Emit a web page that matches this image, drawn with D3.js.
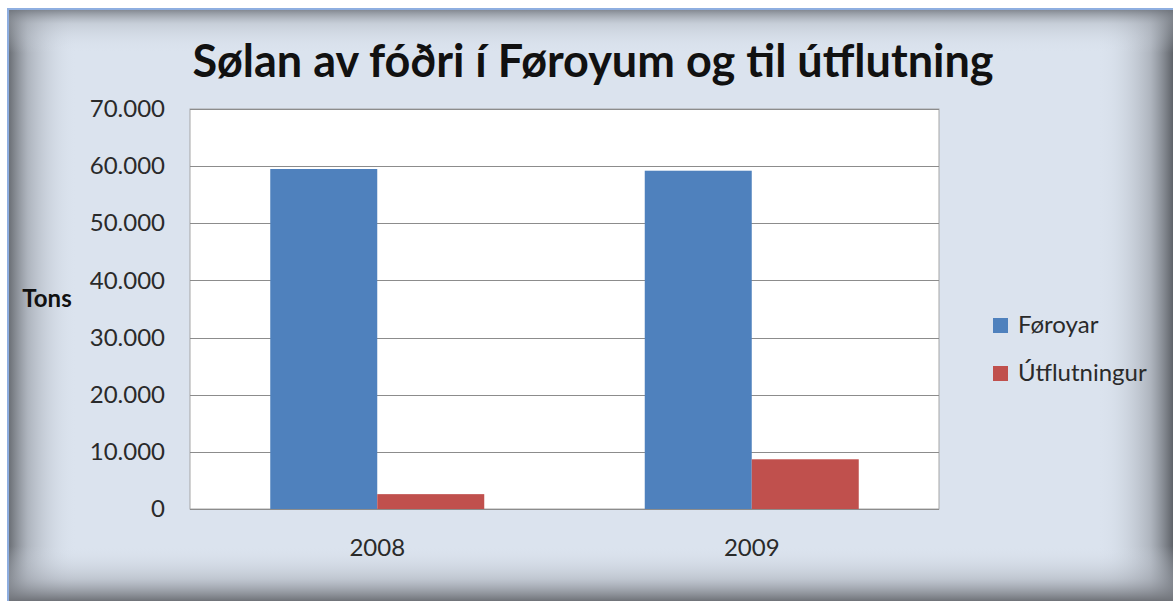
<!DOCTYPE html>
<html>
<head>
<meta charset="utf-8">
<script src="https://cdn.jsdelivr.net/npm/d3@7"></script>
<style>
  body { margin: 0; background: #ffffff; }
  svg { display: block; }
</style>
</head>
<body>
<script>
var categories = ["2008", "2009"];
var seriesNames = ["Føroyar", "Útflutningur"];
var foroyar = [59500, 59200];
var utflutningur = [2600, 8700];
var yTicks = [0, 10000, 20000, 30000, 40000, 50000, 60000, 70000];
var colors = ["#4f81bd", "#c0504d"];

var width = 1173, height = 601;

var svg = d3.select("body").append("svg")
  .attr("width", width)
  .attr("height", height);

var defs = svg.append("defs");

// vignette style background, darker at the edges
function edgeGradient(id, x1, y1, x2, y2, stops) {
  var g = defs.append("linearGradient").attr("id", id)
    .attr("x1", x1).attr("y1", y1).attr("x2", x2).attr("y2", y2);
  stops.forEach(function(s) {
    g.append("stop").attr("offset", s[0]).attr("stop-color", s[1]).attr("stop-opacity", s[2]);
  });
}
edgeGradient("gLeft", 0, 0, 1, 0, [[0, "#62666c", 1], [0.3, "#8a8f97", 0.55], [1, "#dbe3ee", 0]]);
edgeGradient("gRight", 1, 0, 0, 0, [[0, "#5e6268", 1], [0.3, "#8a8f97", 0.55], [1, "#dbe3ee", 0]]);
edgeGradient("gTop", 0, 0, 0, 1, [[0, "#6b7078", 0.9], [0.35, "#a9afb8", 0.4], [1, "#dbe3ee", 0]]);
edgeGradient("gBottom", 0, 1, 0, 0, [[0, "#6f7278", 1], [0.4, "#a4a9b2", 0.5], [1, "#dbe3ee", 0]]);

var bx = 7, by = 8, bw = width - bx, bh = height - by;
svg.append("rect").attr("x", bx).attr("y", by).attr("width", bw).attr("height", bh)
  .attr("fill", "#dbe3ee");
svg.append("rect").attr("x", bx).attr("y", by).attr("width", 70).attr("height", bh)
  .attr("fill", "url(#gLeft)");
svg.append("rect").attr("x", width - 75).attr("y", by).attr("width", 75).attr("height", bh)
  .attr("fill", "url(#gRight)");
svg.append("rect").attr("x", bx).attr("y", by).attr("width", bw).attr("height", 45)
  .attr("fill", "url(#gTop)");
svg.append("rect").attr("x", bx).attr("y", height - 55).attr("width", bw).attr("height", 55)
  .attr("fill", "url(#gBottom)");
// thin blue frame on top and left
svg.append("path")
  .attr("d", "M" + (bx + 1) + "," + height + "V" + (by + 1) + "H" + width)
  .attr("fill", "none").attr("stroke", "#8eaee0").attr("stroke-width", 2);

// title
svg.append("text")
  .attr("x", 593).attr("y", 77)
  .attr("text-anchor", "middle")
  .style("font", "bold 45px Lato, sans-serif")
  .style("fill", "#111")
  .text("Sølan av fóðri í Føroyum og til útflutning");

var plot = { left: 190, right: 939, top: 109, bottom: 509 };

var x0 = d3.scaleBand().domain(categories).range([plot.left, plot.right]);
var x1 = d3.scaleBand().domain(seriesNames).range([0, x0.bandwidth()])
  .paddingInner(0).paddingOuter(0.75);
var y = d3.scaleLinear().domain([0, 70000]).range([plot.bottom, plot.top]);

var locale = d3.formatLocale({ decimal: ",", thousands: ".", grouping: [3], currency: ["", ""] });
var fmt = locale.format(",");

svg.append("rect")
  .attr("x", plot.left).attr("y", plot.top)
  .attr("width", plot.right - plot.left).attr("height", plot.bottom - plot.top)
  .attr("fill", "#ffffff").attr("stroke", "#a6a6a6").attr("stroke-width", 1);

// gridlines
svg.append("g").selectAll("line")
  .data(yTicks)
  .enter().append("line")
  .attr("x1", plot.left).attr("x2", plot.right)
  .attr("y1", function(d) { return Math.round(y(d)) + 0.5; })
  .attr("y2", function(d) { return Math.round(y(d)) + 0.5; })
  .attr("stroke", "#8c8c8c").attr("stroke-width", 1);

// y axis
var yAxis = svg.append("g")
  .attr("transform", "translate(" + plot.left + ",0)")
  .call(d3.axisLeft(y).tickValues(yTicks).tickFormat(fmt).tickSize(0).tickPadding(25));
yAxis.select(".domain").remove();
yAxis.selectAll("text")
  .style("font", "24px Lato, sans-serif")
  .style("fill", "#2a2a2a");

// x axis labels
var xAxis = svg.append("g")
  .attr("transform", "translate(0," + plot.bottom + ")")
  .call(d3.axisBottom(x0).tickSize(0).tickPadding(30));
xAxis.select(".domain").remove();
xAxis.selectAll("text")
  .style("font", "24px Lato, sans-serif")
  .style("fill", "#2a2a2a");

// bars
var values = [foroyar, utflutningur];
var groups = svg.append("g").selectAll("g")
  .data(categories)
  .enter().append("g")
  .attr("transform", function(d) { return "translate(" + x0(d) + ",0)"; });

groups.selectAll("rect")
  .data(function(d, i) {
    return seriesNames.map(function(s, j) { return { s: s, v: values[j][i], c: colors[j] }; });
  })
  .enter().append("rect")
  .attr("x", function(d) { return x1(d.s); })
  .attr("width", x1.bandwidth())
  .attr("y", function(d) { return y(d.v); })
  .attr("height", function(d) { return y(0) - y(d.v); })
  .attr("fill", function(d) { return d.c; });

// y axis title
svg.append("text")
  .attr("x", 47).attr("y", 307)
  .attr("text-anchor", "middle")
  .style("font", "bold 24px Lato, sans-serif")
  .style("fill", "#111")
  .text("Tons");

// legend
var legend = svg.append("g").selectAll("g")
  .data(seriesNames)
  .enter().append("g")
  .attr("transform", function(d, i) { return "translate(993," + (318 + i * 48) + ")"; });
legend.append("rect")
  .attr("width", 15).attr("height", 15)
  .attr("fill", function(d, i) { return colors[i]; });
legend.append("text")
  .attr("x", 25).attr("y", 15)
  .style("font", "24px Lato, sans-serif")
  .style("fill", "#2a2a2a")
  .text(function(d) { return d; });
</script>
</body>
</html>
